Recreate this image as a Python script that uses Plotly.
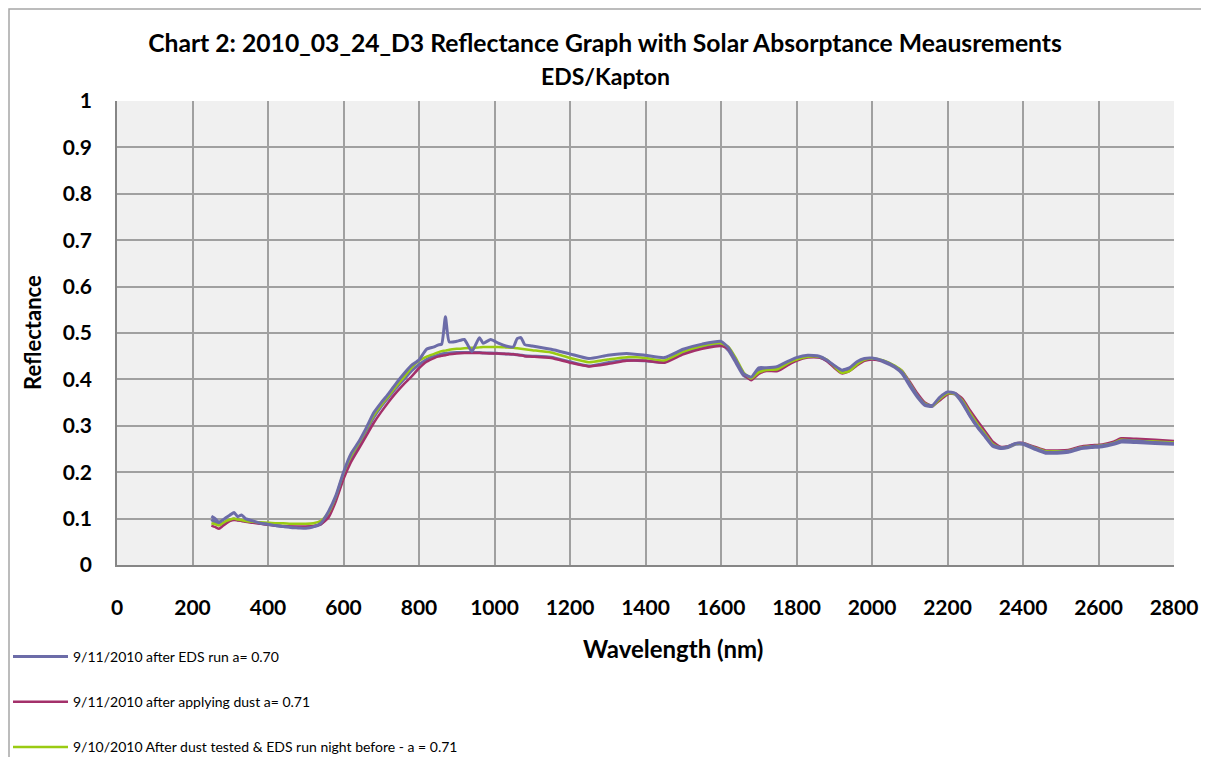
import plotly.graph_objects as go

WAVELENGTH_NM = [
    250, 260, 270, 280, 290, 300, 310, 320, 330, 340, 360, 380, 400, 420, 440, 460, 480, 500, 520, 540,
    560, 580, 600, 620, 640, 660, 680, 700, 720, 740, 760, 780, 800, 820, 840, 850, 860, 870, 880, 900,
    920, 940, 960, 970, 990, 1010, 1030, 1050, 1060, 1070, 1080, 1100, 1150, 1200, 1250, 1300, 1350, 1400, 1450, 1500,
    1550, 1600, 1620, 1640, 1660, 1680, 1700, 1720, 1750, 1780, 1800, 1830, 1860, 1880, 1900, 1920, 1940, 1960, 1980, 2000,
    2030, 2060, 2080, 2100, 2120, 2140, 2160, 2180, 2200, 2220, 2240, 2260, 2280, 2300, 2320, 2340, 2360, 2380, 2400, 2430,
    2460, 2490, 2520, 2550, 2580, 2610, 2640, 2660, 2700, 2750, 2800,
]

# 9/11/2010 after EDS run (noisy scan)
AFTER_EDS_RUN = [
    0.105, 0.100, 0.092, 0.097, 0.103, 0.108, 0.113, 0.104, 0.108, 0.100, 0.095, 0.090, 0.088, 0.085, 0.083, 0.081, 0.080, 0.079, 0.082, 0.090,
    0.115, 0.150, 0.200, 0.240, 0.265, 0.295, 0.328, 0.350, 0.370, 0.392, 0.412, 0.430, 0.442, 0.465, 0.470, 0.474, 0.476, 0.535, 0.481, 0.482,
    0.486, 0.460, 0.490, 0.478, 0.486, 0.478, 0.472, 0.470, 0.488, 0.490, 0.475, 0.472, 0.465, 0.455, 0.445, 0.452, 0.456, 0.452, 0.447, 0.465,
    0.476, 0.482, 0.468, 0.440, 0.412, 0.405, 0.425, 0.425, 0.428, 0.440, 0.447, 0.452, 0.450, 0.442, 0.430, 0.420, 0.425, 0.438, 0.445, 0.446,
    0.440, 0.428, 0.415, 0.390, 0.365, 0.346, 0.344, 0.362, 0.373, 0.370, 0.350, 0.322, 0.298, 0.278, 0.258, 0.253, 0.255, 0.262, 0.262, 0.252,
    0.243, 0.243, 0.245, 0.252, 0.255, 0.257, 0.262, 0.268, 0.267, 0.264, 0.262,
]

# second scan drawn in the same colour (not in the visible legend)
AFTER_EDS_RUN_2 = [
    0.098, 0.092, 0.088, 0.090, 0.094, 0.097, 0.099, 0.097, 0.096, 0.094, 0.092, 0.090, 0.087, 0.085, 0.083, 0.082, 0.081, 0.081, 0.083, 0.088,
    0.108, 0.145, 0.195, 0.232, 0.258, 0.288, 0.318, 0.342, 0.362, 0.382, 0.400, 0.418, 0.432, 0.443, 0.450, 0.452, 0.455, 0.456, 0.457, 0.458,
    0.458, 0.458, 0.458, 0.457, 0.457, 0.456, 0.455, 0.454, 0.453, 0.452, 0.451, 0.450, 0.448, 0.438, 0.429, 0.436, 0.442, 0.440, 0.437, 0.458,
    0.470, 0.476, 0.462, 0.435, 0.408, 0.402, 0.420, 0.422, 0.425, 0.438, 0.445, 0.450, 0.448, 0.440, 0.428, 0.418, 0.422, 0.436, 0.443, 0.445,
    0.438, 0.426, 0.412, 0.386, 0.362, 0.344, 0.342, 0.360, 0.371, 0.368, 0.348, 0.320, 0.296, 0.276, 0.256, 0.251, 0.253, 0.260, 0.260, 0.250,
    0.241, 0.241, 0.243, 0.250, 0.253, 0.255, 0.260, 0.265, 0.264, 0.262, 0.260,
]

AFTER_APPLYING_DUST = [
    0.085, 0.082, 0.078, 0.084, 0.090, 0.095, 0.097, 0.096, 0.095, 0.093, 0.091, 0.089, 0.087, 0.085, 0.084, 0.083, 0.083, 0.083, 0.084, 0.088,
    0.102, 0.138, 0.185, 0.222, 0.250, 0.278, 0.306, 0.330, 0.352, 0.372, 0.390, 0.406, 0.424, 0.438, 0.446, 0.449, 0.451, 0.452, 0.454, 0.456,
    0.457, 0.457, 0.457, 0.457, 0.456, 0.456, 0.455, 0.454, 0.453, 0.452, 0.450, 0.449, 0.446, 0.436, 0.428, 0.433, 0.440, 0.440, 0.436, 0.454,
    0.466, 0.472, 0.466, 0.440, 0.412, 0.398, 0.412, 0.418, 0.418, 0.432, 0.440, 0.447, 0.447, 0.440, 0.425, 0.413, 0.418, 0.430, 0.440, 0.443,
    0.440, 0.428, 0.418, 0.395, 0.370, 0.350, 0.343, 0.355, 0.368, 0.370, 0.358, 0.333, 0.310, 0.288, 0.266, 0.255, 0.256, 0.262, 0.263, 0.255,
    0.247, 0.247, 0.248, 0.255, 0.258, 0.260, 0.266, 0.273, 0.272, 0.270, 0.267,
]

AFTER_DUST_TESTED = [
    0.090, 0.088, 0.085, 0.090, 0.095, 0.098, 0.100, 0.098, 0.097, 0.095, 0.093, 0.092, 0.091, 0.090, 0.090, 0.089, 0.089, 0.089, 0.090, 0.095,
    0.112, 0.148, 0.198, 0.235, 0.262, 0.292, 0.322, 0.345, 0.365, 0.386, 0.405, 0.425, 0.440, 0.449, 0.455, 0.458, 0.461, 0.462, 0.464, 0.466,
    0.467, 0.468, 0.469, 0.470, 0.470, 0.470, 0.469, 0.468, 0.467, 0.466, 0.465, 0.463, 0.458, 0.446, 0.437, 0.443, 0.448, 0.446, 0.441, 0.460,
    0.472, 0.478, 0.470, 0.445, 0.415, 0.402, 0.415, 0.420, 0.422, 0.436, 0.443, 0.449, 0.449, 0.443, 0.428, 0.414, 0.418, 0.432, 0.442, 0.445,
    0.441, 0.430, 0.418, 0.392, 0.366, 0.348, 0.343, 0.358, 0.370, 0.369, 0.354, 0.327, 0.303, 0.282, 0.261, 0.253, 0.255, 0.261, 0.262, 0.253,
    0.245, 0.245, 0.246, 0.253, 0.256, 0.258, 0.263, 0.270, 0.268, 0.266, 0.264,
]

LEGEND_NAMES = [
    "9/11/2010 after EDS run a= 0.70",
    "9/11/2010 after applying dust a= 0.71",
    "9/10/2010 After dust tested & EDS run night before - a = 0.71",
]

X_TICKS = [0, 200, 400, 600, 800, 1000, 1200, 1400, 1600, 1800, 2000, 2200, 2400, 2600, 2800]
Y_TICKS = [0, 0.1, 0.2, 0.3, 0.4, 0.5, 0.6, 0.7, 0.8, 0.9, 1]
Y_TICK_TEXT = ["0", "0.1", "0.2", "0.3", "0.4", "0.5", "0.6", "0.7", "0.8", "0.9", "1"]

BLUE = "#6C6CA8"
RED = "#A3306A"
GREEN = "#9ACB12"
FONT = "Lato, Roboto, Open Sans, sans-serif"

# the page body keeps its default 8px margin, so the figure is 8px smaller each way
W, H = 1201, 749
PLOT_L, PLOT_R, PLOT_T, PLOT_B = 109, 1166, 93, 557
PW, PH = PLOT_R - PLOT_L, PLOT_B - PLOT_T


def px(x):
    return (x - PLOT_L) / PW


def py(y):
    return (PLOT_B - y) / PH


line_shape = dict(shape="spline", smoothing=0.5)

fig = go.Figure()
fig.add_trace(go.Scatter(x=WAVELENGTH_NM, y=AFTER_EDS_RUN_2, mode="lines", name=LEGEND_NAMES[0],
                         line=dict(color=BLUE, width=3, **line_shape), showlegend=False, legendgroup="g1"))
fig.add_trace(go.Scatter(x=WAVELENGTH_NM, y=AFTER_APPLYING_DUST, mode="lines", name=LEGEND_NAMES[1],
                         line=dict(color=RED, width=2.5, **line_shape), legendgroup="g2", legendrank=2))
fig.add_trace(go.Scatter(x=WAVELENGTH_NM, y=AFTER_DUST_TESTED, mode="lines", name=LEGEND_NAMES[2],
                         line=dict(color=GREEN, width=2.5, **line_shape), legendgroup="g3", legendrank=3))
fig.add_trace(go.Scatter(x=WAVELENGTH_NM, y=AFTER_EDS_RUN, mode="lines", name=LEGEND_NAMES[0],
                         line=dict(color=BLUE, width=3, **line_shape), legendgroup="g1", legendrank=1))

fig.update_layout(
    width=W,
    height=H,
    paper_bgcolor="white",
    plot_bgcolor="#F0F0F0",
    font=dict(family=FONT, color="black"),
    margin=dict(l=PLOT_L, r=W - PLOT_R, t=PLOT_T, b=H - PLOT_B, autoexpand=False),
    title=dict(
        text="<b>Chart 2: 2010_03_24_D3 Reflectance Graph with Solar Absorptance Meausrements</b>",
        x=(605 - 8) / W, xref="container", xanchor="center",
        y=1 - (43 - 8) / H, yref="container", yanchor="middle",
        font=dict(size=24.7, family=FONT),
    ),
    legend=dict(
        xref="container", yref="container", x=0.0, y=1 - 633 / H,
        xanchor="left", yanchor="top",
        font=dict(size=14, family=FONT),
        tracegroupgap=24, itemwidth=55, bgcolor="rgba(0,0,0,0)",
    ),
)
fig.add_annotation(text="<b>EDS/Kapton</b>", x=px(605 - 8), xref="paper", y=py(76 - 8), yref="paper",
                   showarrow=False, font=dict(size=23, family=FONT), xanchor="center", yanchor="middle")
fig.add_annotation(text="<b>Wavelength (nm)</b>", x=px(673 - 8), xref="paper", y=py(648 - 8),
                   yref="paper", showarrow=False, font=dict(size=24, family=FONT), xanchor="center", yanchor="middle")
fig.add_annotation(text="<b>Reflectance</b>", x=px(32 - 8), xref="paper", y=0.5, yref="paper",
                   textangle=-90, showarrow=False, font=dict(size=22, family=FONT), xanchor="center", yanchor="middle")

# outer chart-area frame (top/left edges sit on the figure edge)
fig.add_shape(type="rect", xref="paper", yref="paper",
              x0=px(1), x1=px(1205 - 8), y0=py(820), y1=py(1),
              line=dict(color="#A6A6A6", width=1.5), fillcolor="rgba(0,0,0,0)", layer="below")

fig.update_xaxes(
    range=[0, 2800], tickvals=X_TICKS, showgrid=True, gridcolor="#A0A0A0", gridwidth=1.5,
    showline=True, linecolor="#868686", linewidth=1.5, zeroline=False, ticks="",
    tickfont=dict(size=21, family=FONT, weight="bold"), ticklabelstandoff=23, tickangle=0,
)
fig.update_yaxes(
    range=[0, 1], tickvals=Y_TICKS, ticktext=Y_TICK_TEXT, showgrid=True, gridcolor="#A0A0A0", gridwidth=1.5,
    showline=True, linecolor="#868686", linewidth=1.5, zeroline=False, ticks="",
    tickfont=dict(size=21, family=FONT, weight="bold"), ticklabelstandoff=19,
)

fig.write_html("out.html")
